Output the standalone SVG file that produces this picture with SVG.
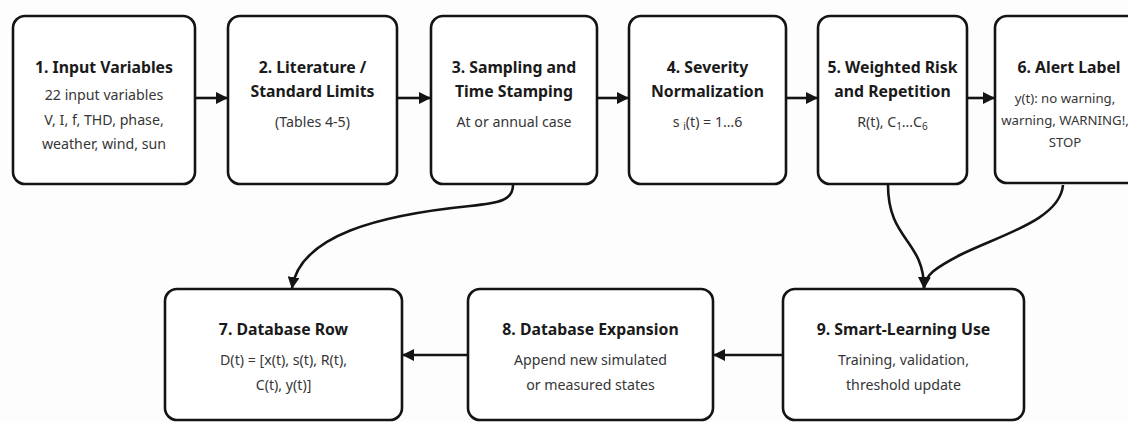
<svg xmlns="http://www.w3.org/2000/svg" width="1128" height="422" viewBox="0 0 1128 422">
<defs>
<style>
.box{fill:#ffffff;stroke:#141414;stroke-width:2.6}
.t{font-family:"Noto Sans","Open Sans",sans-serif;font-weight:bold;font-size:15.8px;fill:#1a1a1a;text-anchor:middle}
.b{font-family:"Noto Sans","Open Sans",sans-serif;font-size:14.2px;fill:#363636;text-anchor:middle}
.b6{font-family:"Noto Sans","Open Sans",sans-serif;font-size:13.2px;fill:#363636;text-anchor:middle}
.c{fill:none;stroke:#141414;stroke-width:2.6}
</style>
<marker id="ah" viewBox="0 0 12 12" refX="11" refY="6" markerWidth="12" markerHeight="12" markerUnits="userSpaceOnUse" orient="auto">
<path d="M0,0 L12,6 L0,12 Z" fill="#141414"/>
</marker>
</defs>
<rect x="0" y="0" width="1128" height="422" fill="#fdfdfd"/>
<g id="connectors">
<line class="c" x1="196" y1="98" x2="227" y2="98" marker-end="url(#ah)"/>
<line class="c" x1="398" y1="98" x2="430" y2="98" marker-end="url(#ah)"/>
<line class="c" x1="598" y1="98" x2="628" y2="98" marker-end="url(#ah)"/>
<line class="c" x1="787" y1="98" x2="817" y2="98" marker-end="url(#ah)"/>
<line class="c" x1="968" y1="98" x2="994" y2="98" marker-end="url(#ah)"/>
<path class="c" d="M513,185 C513,200 500,203 470,206 C380,215 300,235 292,288" marker-end="url(#ah)"/>
<path class="c" d="M888,185 C888,240 924,240 924,288" marker-end="url(#ah)"/>
<path class="c" d="M1063,185 C1060,220 1000,235 960,255 C935,268 925,275 924,288" marker-end="url(#ah)"/>
<line class="c" x1="782" y1="355" x2="714" y2="355" marker-end="url(#ah)"/>
<line class="c" x1="467" y1="355" x2="403" y2="355" marker-end="url(#ah)"/>
</g>
<g id="n1">
<rect class="box" x="13" y="16" width="182" height="168" rx="12"/>
<text class="t" x="104" y="73">1. Input Variables</text>
<text class="b" x="104" y="100">22 input variables</text>
<text class="b" x="104" y="125">V, I, f, THD, phase,</text>
<text class="b" x="104" y="149">weather, wind, sun</text>
</g>
<g id="n2">
<rect class="box" x="228" y="16" width="169" height="168" rx="12"/>
<text class="t" x="312.5" y="73">2. Literature /</text>
<text class="t" x="312.5" y="97">Standard Limits</text>
<text class="b" x="312.5" y="127">(Tables 4-5)</text>
</g>
<g id="n3">
<rect class="box" x="431" y="16" width="166" height="168" rx="12"/>
<text class="t" x="514" y="73">3. Sampling and</text>
<text class="t" x="514" y="97">Time Stamping</text>
<text class="b" x="514" y="127">At or annual case</text>
</g>
<g id="n4">
<rect class="box" x="629" y="16" width="157" height="168" rx="12"/>
<text class="t" x="707.5" y="73">4. Severity</text>
<text class="t" x="707.5" y="97">Normalization</text>
<text class="b" x="707.5" y="127">s <tspan font-size="10" dy="3">i</tspan><tspan dy="-3">(t) = 1…6</tspan></text>
</g>
<g id="n5">
<rect class="box" x="818" y="16" width="149" height="168" rx="12"/>
<text class="t" x="892.5" y="73">5. Weighted Risk</text>
<text class="t" x="892.5" y="97">and Repetition</text>
<text class="b" x="892.5" y="127">R(t), C<tspan font-size="10" dy="3">1</tspan><tspan dy="-3">…C</tspan><tspan font-size="10" dy="3">6</tspan></text>
</g>
<g id="n6">
<rect class="box" x="995" y="16" width="150" height="167" rx="12"/>
<text class="t" x="1069" y="73">6. Alert Label</text>
<text class="b6" x="1065" y="103">y(t): no warning,</text>
<text class="b6" x="1065" y="125">warning, WARNING!,</text>
<text class="b6" x="1065" y="147">STOP</text>
</g>
<g id="n7">
<rect class="box" x="165" y="289" width="237" height="131" rx="12"/>
<text class="t" x="283.5" y="335">7. Database Row</text>
<text class="b" x="283.5" y="365">D(t) = [x(t), s(t), R(t),</text>
<text class="b" x="283.5" y="390">C(t), y(t)]</text>
</g>
<g id="n8">
<rect class="box" x="468" y="289" width="245" height="131" rx="12"/>
<text class="t" x="590.5" y="335">8. Database Expansion</text>
<text class="b" x="590.5" y="365">Append new simulated</text>
<text class="b" x="590.5" y="390">or measured states</text>
</g>
<g id="n9">
<rect class="box" x="783" y="289" width="241" height="131" rx="12"/>
<text class="t" x="903.5" y="335">9. Smart-Learning Use</text>
<text class="b" x="903.5" y="365">Training, validation,</text>
<text class="b" x="903.5" y="390">threshold update</text>
</g>
</svg>
